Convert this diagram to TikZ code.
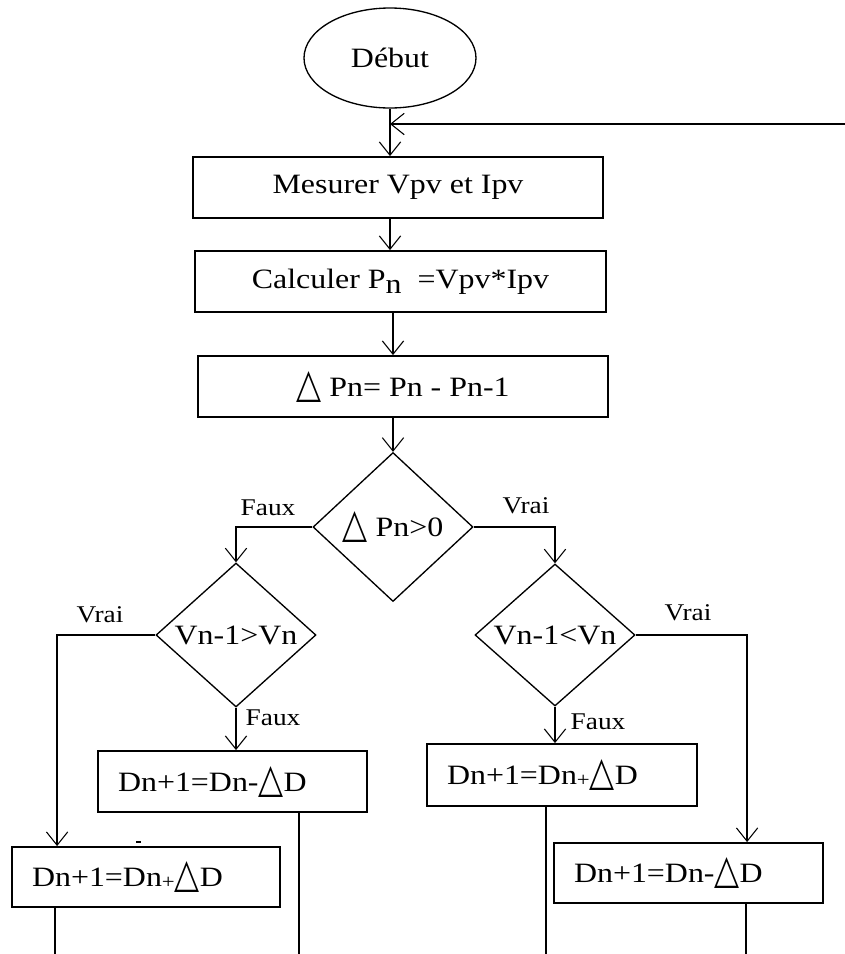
\documentclass[tikz,border=0pt]{standalone}
\usepackage{fontspec}
\usepackage{graphicx}
\setmainfont{Liberation Serif}[FakeStretch=1.14]
\newfontfamily\symf{DejaVu Sans}
\usetikzlibrary{shapes.geometric,arrows.meta}
\newdimen\pxu \pxu=0.75pt
\newcommand\tri{\raisebox{-1\pxu}{\resizebox{25\pxu}{26\pxu}{\symf △}}}
\newcommand\smplus{\raisebox{-2\pxu}{\fontsize{15}{15}\selectfont+}}
\tikzset{
  every node/.style={font=\fontsize{21}{25}\selectfont},
  box/.style={draw, rectangle, line width=1.4pt, inner sep=0pt},
  lbox/.style={box, align=left, inner xsep=20\pxu},
  dia/.style={draw, diamond, shape aspect=1.15, inner sep=0pt, line width=1pt},
  conn/.style={line width=1.4pt},
  arr/.style={conn, -{Straight Barb[length=10pt,width=16pt,line width=0.8pt]}},
  lab/.style={font=\fontsize{18}{20}\selectfont, inner sep=0pt},
}
\begin{document}
\begin{tikzpicture}[x=0.75pt, y=-0.75pt]
\useasboundingbox (0,0) rectangle (845,954);
% nodes
\node[ellipse, draw, line width=1pt, minimum width=172\pxu, minimum height=100\pxu] (debut) at (390,58) {Début};
\node[box, minimum width=410\pxu, minimum height=61\pxu] (mes) at (398,187.5) {Mesurer Vpv et Ipv};
\node[box, minimum width=411\pxu, minimum height=61\pxu] (calc) at (400.5,281.5) {Calculer P\raisebox{-5\pxu}{n}\hspace{12pt}=Vpv*Ipv};
\node[box, minimum width=410\pxu, minimum height=61\pxu] (dp) at (403,386.5) {\tri\ Pn= Pn - Pn-1};
\node[dia, minimum width=160\pxu, minimum height=149\pxu] (d1) at (393,527) {\tri\ Pn>0};
\node[dia, minimum width=160\pxu, minimum height=144\pxu] (d2) at (236,635) {Vn-1>Vn};
\node[dia, minimum width=160\pxu, minimum height=142\pxu] (d3) at (555,635) {Vn-1<Vn};
\node[lbox, text width=229\pxu, minimum height=61\pxu] (b4) at (232.5,781.5) {Dn+1=Dn-\tri D};
\node[lbox, text width=228\pxu, minimum height=60\pxu] (b5) at (146,877) {Dn+1=Dn\smplus\tri D};
\node[lbox, text width=230\pxu, minimum height=62\pxu] (b6) at (562,775) {Dn+1=Dn\smplus\tri D};
\node[lbox, text width=229\pxu, minimum height=60\pxu] (b7) at (688.5,873) {Dn+1=Dn-\tri D};
% labels
\node[lab] (l1) at (268,508) {Faux};
\node[lab] (l2) at (526,506) {Vrai};
\node[lab] (l3) at (100,615) {Vrai};
\node[lab] (l4) at (273,718) {Faux};
\node[lab] (l5) at (688,613) {Vrai};
\node[lab] (l6) at (598,722) {Faux};
% connectors
\coordinate (fbr) at (845,124);
\draw[arr] (debut.south) -- (debut.south |- mes.north);
\draw[arr] (fbr) -- (debut.south |- fbr);
\draw[arr] (mes.south -| debut.south) -- (calc.north -| debut.south);
\draw[arr] (calc.south -| d1.north) -- (dp.north -| d1.north);
\draw[arr] (dp.south -| d1.north) -- (d1.north);
\draw[arr] (d1.west) -| (d2.north);
\draw[arr] (d1.east) -| (d3.north);
\draw[arr] (d2.west) -| ([xshift=46\pxu]b5.north west);
\draw[arr] (d2.south) -- (d2.south |- b4.north);
\draw[arr] (d3.east) -| ([xshift=194\pxu]b7.north west);
\draw[arr] (d3.south) -- (d3.south |- b6.north);
\coordinate (e4) at (299,954);
\coordinate (e5) at (55,954);
\coordinate (e6) at (546,954);
\coordinate (e7) at (746,954);
\draw[conn] (b4.south -| e4) -- (e4);
\draw[conn] (b5.south -| e5) -- (e5);
\draw[conn] (b6.south -| e6) -- (e6);
\draw[conn] (b7.south -| e7) -- (e7);
\draw[line width=0.8pt] (136,842) -- (141,842);
\end{tikzpicture}
\end{document}
